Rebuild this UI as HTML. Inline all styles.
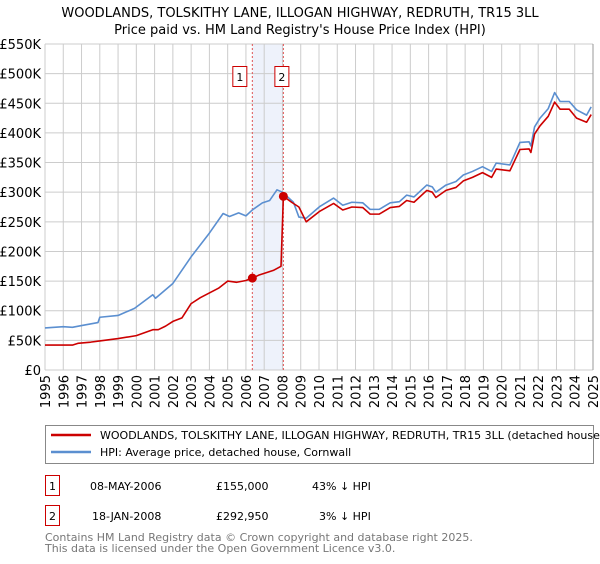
<!DOCTYPE html>
<html><head><meta charset="utf-8"><style>
body{margin:0;background:#fff;font-family:"DejaVu Sans","Liberation Sans",sans-serif;}
svg text{font-family:"DejaVu Sans","Liberation Sans",sans-serif;}
</style></head><body>
<svg id="c" width="600" height="560" xmlns="http://www.w3.org/2000/svg">
<text x="300" y="17" font-size="13" text-anchor="middle">WOODLANDS, TOLSKITHY LANE, ILLOGAN HIGHWAY, REDRUTH, TR15 3LL</text>
<text x="300" y="34" font-size="13" text-anchor="middle">Price paid vs. HM Land Registry's House Price Index (HPI)</text>
<g id="grid"></g><g id="marks"></g><g id="axes"></g>
<rect x="45.5" y="425.5" width="548" height="38" fill="none" stroke="#888"/>
<line x1="51" y1="435" x2="91" y2="435" stroke="#cc0000" stroke-width="2.5"/>
<text x="100" y="439" font-size="11">WOODLANDS, TOLSKITHY LANE, ILLOGAN HIGHWAY, REDRUTH, TR15 3LL (detached house)</text>
<line x1="51" y1="452" x2="91" y2="452" stroke="#5b8fd0" stroke-width="2.5"/>
<text x="100" y="456" font-size="11">HPI: Average price, detached house, Cornwall</text>
<rect x="45.5" y="475.5" width="14" height="20" fill="#fff" stroke="#cc0000"/>
<text x="52.5" y="490" font-size="11" text-anchor="middle">1</text>
<text x="90" y="490" font-size="11">08-MAY-2006</text>
<text x="216" y="490" font-size="11">£155,000</text>
<text x="312" y="490" font-size="11">43% ↓ HPI</text>
<rect x="45.5" y="505.5" width="14" height="20" fill="#fff" stroke="#cc0000"/>
<text x="52.5" y="520" font-size="11" text-anchor="middle">2</text>
<text x="92" y="520" font-size="11">18-JAN-2008</text>
<text x="216" y="520" font-size="11">£292,950</text>
<text x="319" y="520" font-size="11">3% ↓ HPI</text>
<text x="45" y="541" font-size="11" fill="#777">Contains HM Land Registry data © Crown copyright and database right 2025.</text>
<text x="45" y="552" font-size="11" fill="#777">This data is licensed under the Open Government Licence v3.0.</text>
</svg>
<script>
const hpiYears=[1995,1996,1996.5,1997,1997.9,1998,1999,1999.9,2000.9,2001.05,2002,2003,2004,2004.75,2005.1,2005.6,2006,2006.35,2006.9,2007.3,2007.7,2008,2008.6,2008.9,2009.3,2010.05,2010.8,2011.3,2011.8,2012.4,2012.8,2013.3,2013.9,2014.4,2014.8,2015.2,2015.9,2016.2,2016.4,2016.95,2017.5,2017.9,2018.4,2018.95,2019.45,2019.7,2020.45,2021,2021.5,2021.6,2021.8,2022.1,2022.55,2022.9,2023.2,2023.7,2024.1,2024.65,2024.9];
const hpiValues=[71,73,72,75,80,89,92,104,127,121,146,191,231,264,259,265,260,270,282,286,304,300,283,258,256,276,290,278,283,282,271,271,282,284,295,292,312,309,300,312,318,329,335,343,335,349,346,384,385,378,410,425,441,468,453,453,439,430,444];
const priceYears=[1995,1996.5,1996.8,1997.5,1998,1999,2000,2000.9,2001.2,2001.6,2002,2002.5,2003,2003.5,2004,2004.5,2005,2005.5,2006,2006.35,2006.7,2007,2007.5,2007.92,2008.05,2008.5,2008.9,2009.3,2010.05,2010.8,2011.3,2011.8,2012.4,2012.8,2013.3,2013.9,2014.4,2014.8,2015.2,2015.9,2016.2,2016.4,2016.95,2017.5,2017.9,2018.4,2018.95,2019.45,2019.7,2020.45,2021,2021.5,2021.6,2021.8,2022.1,2022.55,2022.9,2023.2,2023.7,2024.1,2024.65,2024.9];
const priceValues=[42,42,45,47,49,53,58,68,68,74,82,88,112,122,130,138,150,148,151,155,160,163,168,175,293,283,275,250,268,281,270,275,274,263,263,274,276,286,283,303,300,291,303,308,319,325,333,325,339,336,372,373,367,398,412,428,452,440,440,425,418,431];
const sales=[{y:2006.35,v:155},{y:2008.05,v:292.95}];
const yTicks=[0,50,100,150,200,250,300,350,400,450,500,550];
const yTickLabels=["£0","£50K","£100K","£150K","£200K","£250K","£300K","£350K","£400K","£450K","£500K","£550K"];
const xTicks=[1995,1996,1997,1998,1999,2000,2001,2002,2003,2004,2005,2006,2007,2008,2009,2010,2011,2012,2013,2014,2015,2016,2017,2018,2019,2020,2021,2022,2023,2024,2025];
const NS="http://www.w3.org/2000/svg";
const X0=45,X1=593,Y0=370,Y1=44;
const xs=y=>X0+(y-1995)/30*(X1-X0);
const ys=v=>Y0-v/550*(Y0-Y1);
function mk(tag,attrs,parent){const e=document.createElementNS(NS,tag);for(const k in attrs)e.setAttribute(k,attrs[k]);document.getElementById(parent).appendChild(e);return e;}
// shaded band
const band=mk('rect',{x:xs(sales[0].y),y:Y1,width:xs(sales[1].y)-xs(sales[0].y),height:Y0-Y1,fill:'#eef2fb'},'grid');


yTicks.forEach((t,i)=>{
 const l=mk('line',{x1:X0,x2:X1,y1:ys(t),y2:ys(t),stroke:'#ccc','stroke-width':1},'grid');
 
 
 const tx=mk('text',{x:X0-4,y:ys(t)+5,'font-size':13,'text-anchor':'end'},'axes');
 tx.textContent=yTickLabels[i];
 
 
});
xTicks.forEach(t=>{
 const l=mk('line',{x1:xs(t),x2:xs(t),y1:Y1,y2:Y0,stroke:'#ccc','stroke-width':1},'grid');
 
 
 const tx=mk('text',{x:0,y:0,'font-size':13,'text-anchor':'end',transform:`translate(${xs(t)+5},${Y0+5}) rotate(-90)`},'axes');
 tx.textContent=t;
 
 
});
sales.forEach((s,i)=>{
 const l=mk('line',{x1:xs(s.y),x2:xs(s.y),y1:Y1,y2:Y0,stroke:'#e05555','stroke-width':1,'stroke-dasharray':'2,2'},'grid');
 
 
});
function line(xa,va,col,name){
 const p=mk('polyline',{points:xa.map((y,i)=>xs(y)+','+ys(va[i])).join(' '),fill:'none',stroke:col,'stroke-width':1.6,'stroke-linejoin':'round'},'marks');
 
 
}
line(hpiYears,hpiValues,'#5b8fd0','hpi-line');
line(priceYears,priceValues,'#cc0000','price-line');
sales.forEach((s,i)=>{
 const c=mk('circle',{cx:xs(s.y),cy:ys(s.v),r:4.5,fill:'#cc0000'},'marks');
 
 
 const bx=xs(s.y)-(i==0?13:2);
 const r=mk('rect',{x:bx-6.5,y:66.5,width:14,height:20,fill:'#fff',stroke:'#cc0000'},'marks');
 
 
 const t=mk('text',{x:bx+0.5,y:81,'font-size':11,'text-anchor':'middle'},'marks');
 t.textContent=String(i+1);
 
 
});
const ax=mk('line',{x1:X1,x2:X1,y1:Y1,y2:Y0,stroke:'#999','stroke-width':1},'axes');


</script>
</body></html>
